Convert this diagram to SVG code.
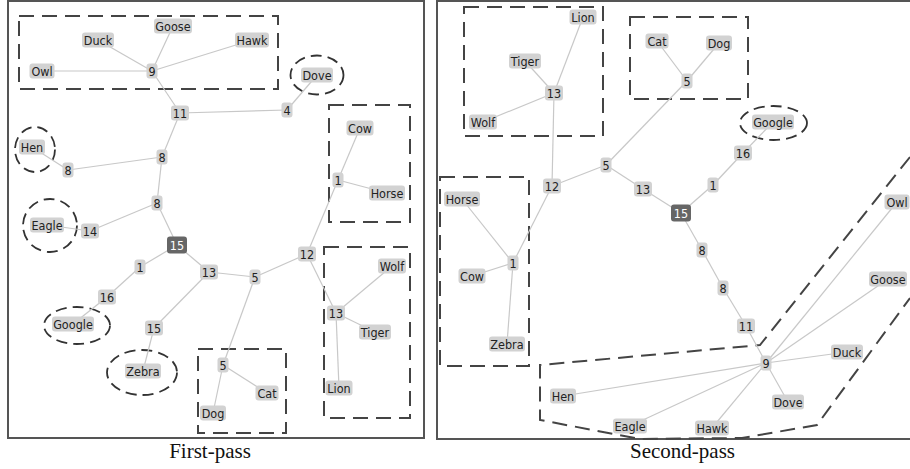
<svg xmlns="http://www.w3.org/2000/svg" width="910" height="469" viewBox="0 0 910 469">
<style>
.frame{fill:none;stroke:#555;stroke-width:2}
.grp{fill:none;stroke:#444;stroke-width:2;stroke-dasharray:15 8}
.ell{fill:none;stroke:#333;stroke-width:1.8;stroke-dasharray:11 6}
.e line{stroke:#c8c8c8;stroke-width:1.2}
.n rect{fill:#d2d2d2}
.n text{font-family:"DejaVu Sans Condensed","DejaVu Sans",Verdana,sans-serif;font-stretch:condensed;font-size:12.5px;fill:#222;text-anchor:middle}
.r rect{fill:#666}
.r text{fill:#fff}
.cap{font-family:"Liberation Serif","Times New Roman",serif;font-size:21px;fill:#111;text-anchor:middle}
</style>
<rect width="910" height="469" fill="#fff"/>
<rect class="frame" x="8" y="1" width="416" height="437"/>
<rect class="frame" x="437" y="1" width="480" height="438"/>
<g id="groups">
<rect class="grp" x="19" y="16" width="259" height="73"/>
<rect class="grp" x="329" y="105" width="81" height="117"/>
<rect class="grp" x="324" y="247" width="86" height="171"/>
<rect class="grp" x="198" y="349" width="88" height="84"/>
<ellipse class="ell" cx="317" cy="75" rx="26.5" ry="19.5"/>
<ellipse class="ell" cx="35" cy="149.5" rx="20" ry="22.5"/>
<ellipse class="ell" cx="50" cy="225.5" rx="27" ry="26.5"/>
<ellipse class="ell" cx="77" cy="325.5" rx="33" ry="18.5"/>
<ellipse class="ell" cx="142" cy="372.5" rx="35" ry="22.5"/>
<rect class="grp" x="464" y="7" width="139" height="129"/>
<rect class="grp" x="630" y="17" width="118" height="82"/>
<rect class="grp" x="440" y="177" width="89" height="189"/>
<ellipse class="ell" cx="773.5" cy="123" rx="33.5" ry="17"/>
<path class="grp" d="M910 157 L760 345 L540 365 L540 420 L640 439 L742 438 L817 425 L910 298"/>
</g>
<g id="connectors" class="e">
<line x1="152" y1="71" x2="173" y2="26"/>
<line x1="152" y1="71" x2="98" y2="40"/>
<line x1="152" y1="71" x2="252" y2="40"/>
<line x1="152" y1="71" x2="42" y2="71"/>
<line x1="152" y1="71" x2="180" y2="113"/>
<line x1="180" y1="113" x2="287" y2="110"/>
<line x1="287" y1="110" x2="317" y2="75"/>
<line x1="180" y1="113" x2="162" y2="157"/>
<line x1="162" y1="157" x2="68" y2="170"/>
<line x1="68" y1="170" x2="32" y2="147"/>
<line x1="162" y1="157" x2="157" y2="203"/>
<line x1="157" y1="203" x2="90" y2="231"/>
<line x1="90" y1="231" x2="47" y2="225"/>
<line x1="157" y1="203" x2="177" y2="245"/>
<line x1="177" y1="245" x2="140" y2="267"/>
<line x1="140" y1="267" x2="107" y2="297"/>
<line x1="107" y1="297" x2="73" y2="324"/>
<line x1="177" y1="245" x2="209" y2="272"/>
<line x1="209" y1="272" x2="154" y2="328"/>
<line x1="154" y1="328" x2="143" y2="371"/>
<line x1="209" y1="272" x2="255" y2="277"/>
<line x1="255" y1="277" x2="307" y2="254"/>
<line x1="307" y1="254" x2="338" y2="180"/>
<line x1="338" y1="180" x2="360" y2="128"/>
<line x1="338" y1="180" x2="387" y2="193"/>
<line x1="307" y1="254" x2="336" y2="313"/>
<line x1="336" y1="313" x2="392" y2="266"/>
<line x1="336" y1="313" x2="375" y2="332"/>
<line x1="336" y1="313" x2="339" y2="388"/>
<line x1="255" y1="277" x2="223" y2="365"/>
<line x1="223" y1="365" x2="267" y2="393"/>
<line x1="223" y1="365" x2="213" y2="413"/>
<line x1="554" y1="93" x2="583" y2="17"/>
<line x1="554" y1="93" x2="525" y2="61"/>
<line x1="554" y1="93" x2="483" y2="122"/>
<line x1="554" y1="93" x2="552" y2="186"/>
<line x1="552" y1="186" x2="606" y2="165"/>
<line x1="552" y1="186" x2="513" y2="263"/>
<line x1="513" y1="263" x2="462" y2="199"/>
<line x1="513" y1="263" x2="472" y2="276"/>
<line x1="513" y1="263" x2="507" y2="344"/>
<line x1="606" y1="165" x2="687" y2="81"/>
<line x1="687" y1="81" x2="657" y2="41"/>
<line x1="687" y1="81" x2="719" y2="43"/>
<line x1="606" y1="165" x2="643" y2="189"/>
<line x1="643" y1="189" x2="681" y2="213"/>
<line x1="681" y1="213" x2="713" y2="185"/>
<line x1="713" y1="185" x2="743" y2="153"/>
<line x1="743" y1="153" x2="773" y2="122"/>
<line x1="681" y1="213" x2="702" y2="250"/>
<line x1="702" y1="250" x2="723" y2="288"/>
<line x1="723" y1="288" x2="746" y2="326"/>
<line x1="746" y1="326" x2="766" y2="363"/>
<line x1="766" y1="363" x2="897" y2="202"/>
<line x1="766" y1="363" x2="888" y2="279"/>
<line x1="766" y1="363" x2="847" y2="352"/>
<line x1="766" y1="363" x2="788" y2="402"/>
<line x1="766" y1="363" x2="712" y2="428"/>
<line x1="766" y1="363" x2="630" y2="426"/>
<line x1="766" y1="363" x2="563" y2="396"/>
</g>
<g id="L-goose" class="n"><rect x="154" y="18.5" width="38" height="15" rx="3"/><text x="173" y="30.5">Goose</text></g>
<g id="L-duck" class="n"><rect x="82" y="32.5" width="32" height="15" rx="3"/><text x="98" y="44.5">Duck</text></g>
<g id="L-hawk" class="n"><rect x="235" y="32.5" width="34" height="15" rx="3"/><text x="252" y="44.5">Hawk</text></g>
<g id="L-owl" class="n"><rect x="29.5" y="63.5" width="25" height="15" rx="3"/><text x="42" y="75.5">Owl</text></g>
<g id="L-9" class="n"><rect x="146.5" y="63.5" width="11" height="15" rx="3"/><text x="152" y="75.5">9</text></g>
<g id="L-dove" class="n"><rect x="301" y="67.5" width="32" height="15" rx="3"/><text x="317" y="79.5">Dove</text></g>
<g id="L-11" class="n"><rect x="171" y="105.5" width="18" height="15" rx="3"/><text x="180" y="117.5">11</text></g>
<g id="L-4" class="n"><rect x="281.5" y="102.5" width="11" height="15" rx="3"/><text x="287" y="114.5">4</text></g>
<g id="L-cow" class="n"><rect x="346.5" y="120.5" width="27" height="15" rx="3"/><text x="360" y="132.5">Cow</text></g>
<g id="L-hen" class="n"><rect x="19" y="139.5" width="26" height="15" rx="3"/><text x="32" y="151.5">Hen</text></g>
<g id="L-8a" class="n"><rect x="156.5" y="149.5" width="11" height="15" rx="3"/><text x="162" y="161.5">8</text></g>
<g id="L-8b" class="n"><rect x="62.5" y="162.5" width="11" height="15" rx="3"/><text x="68" y="174.5">8</text></g>
<g id="L-1a" class="n"><rect x="332.5" y="172.5" width="11" height="15" rx="3"/><text x="338" y="184.5">1</text></g>
<g id="L-horse" class="n"><rect x="369" y="185.5" width="36" height="15" rx="3"/><text x="387" y="197.5">Horse</text></g>
<g id="L-8c" class="n"><rect x="151.5" y="195.5" width="11" height="15" rx="3"/><text x="157" y="207.5">8</text></g>
<g id="L-eagle" class="n"><rect x="30" y="217.5" width="34" height="15" rx="3"/><text x="47" y="229.5">Eagle</text></g>
<g id="L-14" class="n"><rect x="81" y="223.5" width="18" height="15" rx="3"/><text x="90" y="235.5">14</text></g>
<g id="L-15" class="n r"><rect x="167" y="236.5" width="20" height="17" rx="3"/><text x="177" y="249.5">15</text></g>
<g id="L-12" class="n"><rect x="298" y="246.5" width="18" height="15" rx="3"/><text x="307" y="258.5">12</text></g>
<g id="L-1b" class="n"><rect x="134.5" y="259.5" width="11" height="15" rx="3"/><text x="140" y="271.5">1</text></g>
<g id="L-13a" class="n"><rect x="200" y="264.5" width="18" height="15" rx="3"/><text x="209" y="276.5">13</text></g>
<g id="L-wolf" class="n"><rect x="378" y="258.5" width="28" height="15" rx="3"/><text x="392" y="270.5">Wolf</text></g>
<g id="L-5a" class="n"><rect x="249.5" y="269.5" width="11" height="15" rx="3"/><text x="255" y="281.5">5</text></g>
<g id="L-16" class="n"><rect x="98" y="289.5" width="18" height="15" rx="3"/><text x="107" y="301.5">16</text></g>
<g id="L-13b" class="n"><rect x="327" y="305.5" width="18" height="15" rx="3"/><text x="336" y="317.5">13</text></g>
<g id="L-google" class="n"><rect x="52" y="316.5" width="42" height="15" rx="3"/><text x="73" y="328.5">Google</text></g>
<g id="L-15b" class="n"><rect x="145" y="320.5" width="18" height="15" rx="3"/><text x="154" y="332.5">15</text></g>
<g id="L-tiger" class="n"><rect x="359" y="324.5" width="32" height="15" rx="3"/><text x="375" y="336.5">Tiger</text></g>
<g id="L-5b" class="n"><rect x="217.5" y="357.5" width="11" height="15" rx="3"/><text x="223" y="369.5">5</text></g>
<g id="L-zebra" class="n"><rect x="125" y="363.5" width="36" height="15" rx="3"/><text x="143" y="375.5">Zebra</text></g>
<g id="L-cat" class="n"><rect x="255.5" y="385.5" width="23" height="15" rx="3"/><text x="267" y="397.5">Cat</text></g>
<g id="L-lion" class="n"><rect x="325.5" y="380.5" width="27" height="15" rx="3"/><text x="339" y="392.5">Lion</text></g>
<g id="L-dog" class="n"><rect x="200" y="405.5" width="26" height="15" rx="3"/><text x="213" y="417.5">Dog</text></g>
<g id="R-lion" class="n"><rect x="569.5" y="9.5" width="27" height="15" rx="3"/><text x="583" y="21.5">Lion</text></g>
<g id="R-tiger" class="n"><rect x="509" y="53.5" width="32" height="15" rx="3"/><text x="525" y="65.5">Tiger</text></g>
<g id="R-13a" class="n"><rect x="545" y="85.5" width="18" height="15" rx="3"/><text x="554" y="97.5">13</text></g>
<g id="R-wolf" class="n"><rect x="469" y="114.5" width="28" height="15" rx="3"/><text x="483" y="126.5">Wolf</text></g>
<g id="R-cat" class="n"><rect x="645.5" y="33.5" width="23" height="15" rx="3"/><text x="657" y="45.5">Cat</text></g>
<g id="R-dog" class="n"><rect x="706" y="35.5" width="26" height="15" rx="3"/><text x="719" y="47.5">Dog</text></g>
<g id="R-5a" class="n"><rect x="681.5" y="73.5" width="11" height="15" rx="3"/><text x="687" y="85.5">5</text></g>
<g id="R-google" class="n"><rect x="752" y="114.5" width="42" height="15" rx="3"/><text x="773" y="126.5">Google</text></g>
<g id="R-16" class="n"><rect x="734" y="145.5" width="18" height="15" rx="3"/><text x="743" y="157.5">16</text></g>
<g id="R-horse" class="n"><rect x="444" y="191.5" width="36" height="15" rx="3"/><text x="462" y="203.5">Horse</text></g>
<g id="R-12" class="n"><rect x="543" y="178.5" width="18" height="15" rx="3"/><text x="552" y="190.5">12</text></g>
<g id="R-5b" class="n"><rect x="600.5" y="157.5" width="11" height="15" rx="3"/><text x="606" y="169.5">5</text></g>
<g id="R-13b" class="n"><rect x="634" y="181.5" width="18" height="15" rx="3"/><text x="643" y="193.5">13</text></g>
<g id="R-1a" class="n"><rect x="707.5" y="177.5" width="11" height="15" rx="3"/><text x="713" y="189.5">1</text></g>
<g id="R-15" class="n r"><rect x="671" y="204.5" width="20" height="17" rx="3"/><text x="681" y="217.5">15</text></g>
<g id="R-1b" class="n"><rect x="507.5" y="255.5" width="11" height="15" rx="3"/><text x="513" y="267.5">1</text></g>
<g id="R-cow" class="n"><rect x="458.5" y="268.5" width="27" height="15" rx="3"/><text x="472" y="280.5">Cow</text></g>
<g id="R-8a" class="n"><rect x="696.5" y="242.5" width="11" height="15" rx="3"/><text x="702" y="254.5">8</text></g>
<g id="R-8b" class="n"><rect x="717.5" y="280.5" width="11" height="15" rx="3"/><text x="723" y="292.5">8</text></g>
<g id="R-owl" class="n"><rect x="884.5" y="194.5" width="25" height="15" rx="3"/><text x="897" y="206.5">Owl</text></g>
<g id="R-goose" class="n"><rect x="869" y="271.5" width="38" height="15" rx="3"/><text x="888" y="283.5">Goose</text></g>
<g id="R-zebra" class="n"><rect x="489" y="336.5" width="36" height="15" rx="3"/><text x="507" y="348.5">Zebra</text></g>
<g id="R-11" class="n"><rect x="737" y="318.5" width="18" height="15" rx="3"/><text x="746" y="330.5">11</text></g>
<g id="R-9" class="n"><rect x="760.5" y="355.5" width="11" height="15" rx="3"/><text x="766" y="367.5">9</text></g>
<g id="R-duck" class="n"><rect x="831" y="344.5" width="32" height="15" rx="3"/><text x="847" y="356.5">Duck</text></g>
<g id="R-hen" class="n"><rect x="550" y="388.5" width="26" height="15" rx="3"/><text x="563" y="400.5">Hen</text></g>
<g id="R-dove" class="n"><rect x="772" y="394.5" width="32" height="15" rx="3"/><text x="788" y="406.5">Dove</text></g>
<g id="R-eagle" class="n"><rect x="613" y="418.5" width="34" height="15" rx="3"/><text x="630" y="430.5">Eagle</text></g>
<g id="R-hawk" class="n"><rect x="695" y="420.5" width="34" height="15" rx="3"/><text x="712" y="432.5">Hawk</text></g>
<text class="cap" x="210" y="458">First-pass</text>
<text class="cap" x="682.5" y="458">Second-pass</text>
</svg>
